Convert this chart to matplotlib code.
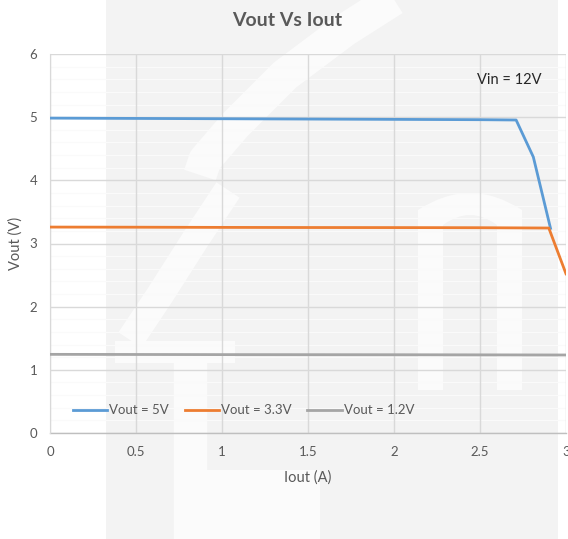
import matplotlib
matplotlib.use("Agg")
import matplotlib.pyplot as plt
from matplotlib.patches import Rectangle, PathPatch
from matplotlib.path import Path

plt.rcParams['font.family'] = ['Lato', 'DejaVu Sans']

# data
iout_5v = [0, 0.5, 1.0, 1.5, 2.0, 2.5, 2.71, 2.81, 2.91]
vout_5v = [4.985, 4.98, 4.975, 4.97, 4.965, 4.96, 4.955, 4.37, 3.24]
iout_33v = [0, 0.5, 1.0, 1.5, 2.0, 2.5, 2.9, 3.0]
vout_33v = [3.26, 3.258, 3.255, 3.253, 3.252, 3.25, 3.245, 2.52]
iout_12v = [0, 0.5, 1.0, 1.5, 2.0, 2.5, 3.0]
vout_12v = [1.245, 1.243, 1.241, 1.24, 1.239, 1.237, 1.235]
labels = ["Vout = 5V", "Vout = 3.3V", "Vout = 1.2V"]
colors = ["#5b9bd5", "#ed7d31", "#a5a5a5"]
xticks = [0, 0.5, 1, 1.5, 2, 2.5, 3]
yticks = [0, 1, 2, 3, 4, 5, 6]

W, H = 568, 539
fig = plt.figure(figsize=(W / 100, H / 100), dpi=100)
fig.patch.set_facecolor("white")

# watermark background (figure pixel coords, y measured from top)
bg = fig.add_axes([0, 0, 1, 1], zorder=0)
bg.set_xlim(0, W)
bg.set_ylim(H, 0)
bg.axis("off")
bg.add_patch(Rectangle((106, 0), 452, H, facecolor="#f3f3f3", edgecolor="none"))
wmc = "#fbfbfb"
wm = dict(color=wmc, solid_capstyle="butt", solid_joinstyle="round")
bg.plot([400, 345, 285, 235, 205, 200], [-5, 30, 75, 125, 160, 175], lw=24, **wm)
bg.plot([228, 195, 160, 130], [190, 240, 295, 340], lw=20, **wm)
bg.plot([115, 235], [352, 352], lw=16, **wm)
bg.plot([190, 190], [360, 545], lw=24, **wm)
bg.add_patch(Rectangle((200, 470), 120, 75, facecolor=wmc, edgecolor="none"))
# "n" shape
verts = [(418, 390), (418, 210), (470, 176), (522, 210), (522, 390),
         (497, 390), (497, 225), (470, 205), (443, 225), (443, 390), (418, 390)]
codes = [Path.MOVETO, Path.LINETO, Path.CURVE3, Path.CURVE3, Path.LINETO,
         Path.LINETO, Path.LINETO, Path.CURVE3, Path.CURVE3, Path.LINETO, Path.CLOSEPOLY]
bg.add_patch(PathPatch(Path(verts, codes), facecolor=wmc, edgecolor="none"))

ax = fig.add_axes([50 / W, 1 - 433 / H, 516 / W, 379 / H], zorder=1)
ax.patch.set_alpha(0)

ax.plot(iout_5v, vout_5v, color=colors[0], lw=2.0, label=labels[0], zorder=3)
ax.plot(iout_33v, vout_33v, color=colors[1], lw=2.0, label=labels[1], zorder=4)
ax.plot(iout_12v, vout_12v, color=colors[2], lw=2.0, label=labels[2], zorder=3)

ax.set_xlim(0, 3)
ax.set_ylim(0, 6)
ax.set_xticks(xticks)
ax.set_xticklabels(["0", "0.5", "1", "1.5", "2", "2.5", "3"])
ax.set_yticks(yticks)
ax.set_yticks([i * 0.2 for i in range(31)], minor=True)
ax.grid(True, which="major", color="#d9d9d9", lw=1.0)
ax.grid(True, which="minor", axis="y", color="#fafafa", lw=0.9)
ax.set_axisbelow(True)
ax.yaxis.set_zorder(0.5)
ax.xaxis.set_zorder(0.6)
ax.tick_params(which="both", length=0, colors="#595959", labelsize=9.5)
ax.tick_params(axis="x", pad=9)
ax.tick_params(axis="y", pad=9)
for s in ["top", "right"]:
    ax.spines[s].set_visible(False)
ax.spines["left"].set_color("#d9d9d9")
ax.spines["bottom"].set_color("#bfbfbf")
ax.spines["bottom"].set_linewidth(1.0)
ax.spines["bottom"].set_zorder(2)

ax.set_xlabel("Iout (A)", color="#595959", fontsize=10.5, labelpad=9)
ax.set_ylabel("Vout (V)", color="#595959", fontsize=10.5, labelpad=5)
fig.text(287 / W, 1 - 20 / H, "Vout Vs Iout", ha="center", va="center",
         fontsize=14, fontweight="bold", color="#595959")
ax.text(2.67, 5.59, "Vin = 12V", ha="center", va="center", fontsize=10.5, color="#262626")

leg = ax.legend(loc="center", bbox_to_anchor=(0.375, 0.06), ncol=3, frameon=False,
                fontsize=9.5, handlelength=2.6, handletextpad=0.15, columnspacing=1.2,
                labelcolor="#595959")

fig.savefig("out.png", dpi=100, facecolor="white")
